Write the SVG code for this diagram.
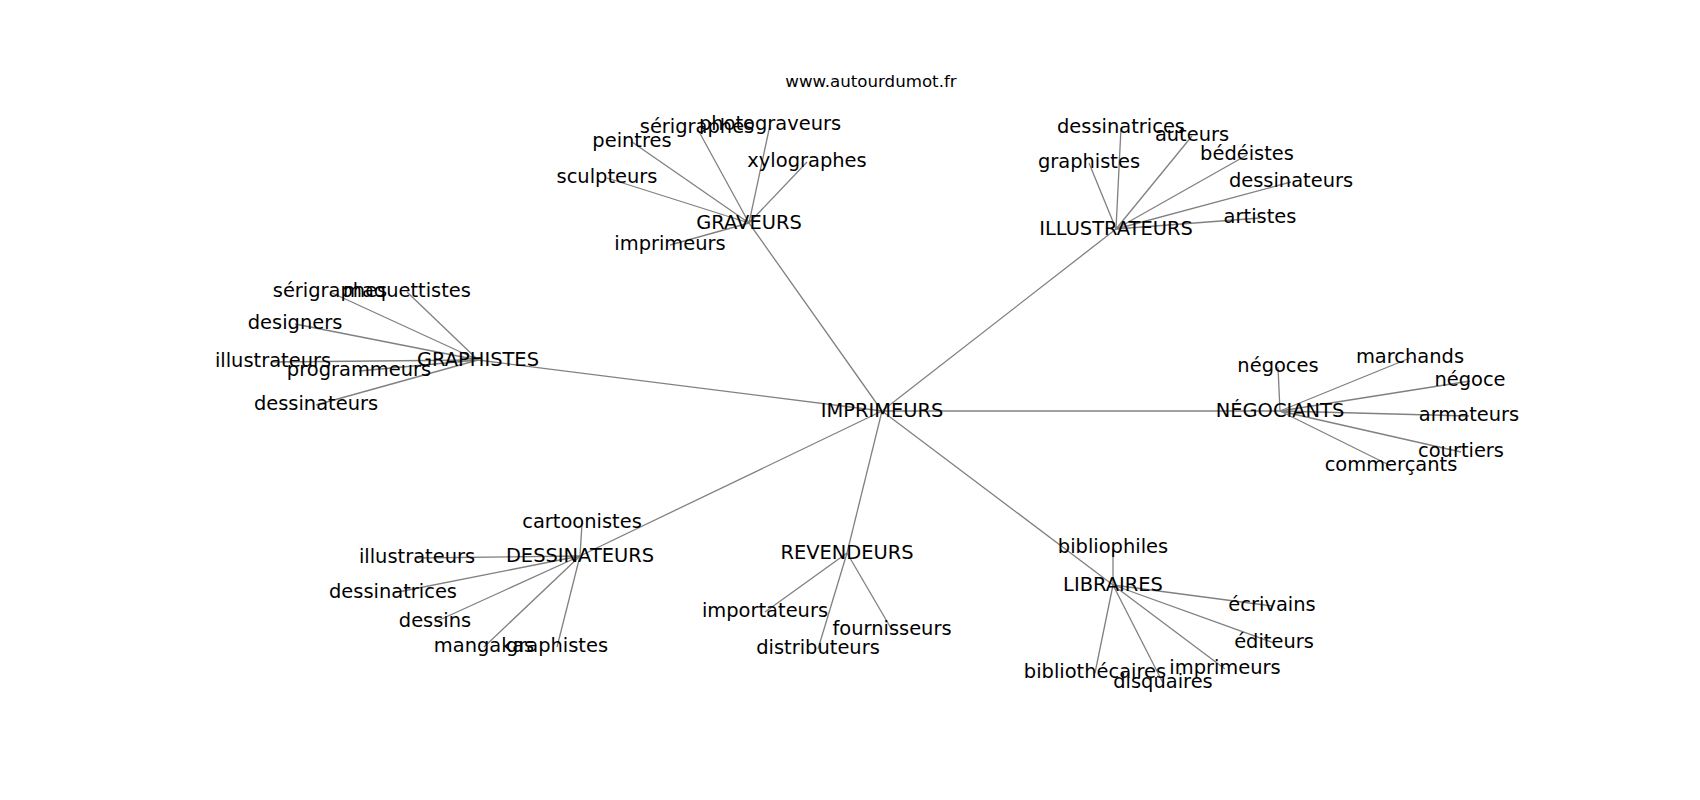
<svg xmlns="http://www.w3.org/2000/svg" width="1700" height="800" viewBox="0 0 1700 800">
<style>
text{font-family:"DejaVu Sans",sans-serif;fill:#000;text-anchor:middle}
.l{font-size:19.44px}
.t{font-size:16.67px}
#edges line{stroke:#808080;stroke-width:1.3}
</style>
<rect width="1700" height="800" fill="#fff"/>
<text class="t" x="871" y="87">www.autourdumot.fr</text>
<g id="edges">
<line x1="882" y1="411" x2="749" y2="223"/>
<line x1="882" y1="411" x2="1116" y2="229"/>
<line x1="882" y1="411" x2="478" y2="360"/>
<line x1="882" y1="411" x2="1280" y2="411"/>
<line x1="882" y1="411" x2="580" y2="556"/>
<line x1="882" y1="411" x2="847" y2="553"/>
<line x1="882" y1="411" x2="1113" y2="585"/>
<line x1="749" y1="223" x2="770" y2="125"/>
<line x1="749" y1="223" x2="697" y2="128"/>
<line x1="749" y1="223" x2="632" y2="142"/>
<line x1="749" y1="223" x2="807" y2="162"/>
<line x1="749" y1="223" x2="607" y2="178"/>
<line x1="749" y1="223" x2="670" y2="245"/>
<line x1="1116" y1="229" x2="1121" y2="128"/>
<line x1="1116" y1="229" x2="1192" y2="136"/>
<line x1="1116" y1="229" x2="1247" y2="155"/>
<line x1="1116" y1="229" x2="1089" y2="163"/>
<line x1="1116" y1="229" x2="1291" y2="182"/>
<line x1="1116" y1="229" x2="1260" y2="218"/>
<line x1="478" y1="360" x2="330" y2="292"/>
<line x1="478" y1="360" x2="407" y2="292"/>
<line x1="478" y1="360" x2="295" y2="324"/>
<line x1="478" y1="360" x2="273" y2="362"/>
<line x1="478" y1="360" x2="359" y2="371"/>
<line x1="478" y1="360" x2="316" y2="405"/>
<line x1="1280" y1="411" x2="1278" y2="367"/>
<line x1="1280" y1="411" x2="1410" y2="358"/>
<line x1="1280" y1="411" x2="1470" y2="381"/>
<line x1="1280" y1="411" x2="1469" y2="416"/>
<line x1="1280" y1="411" x2="1461" y2="452"/>
<line x1="1280" y1="411" x2="1391" y2="466"/>
<line x1="580" y1="556" x2="582" y2="523"/>
<line x1="580" y1="556" x2="417" y2="558"/>
<line x1="580" y1="556" x2="393" y2="593"/>
<line x1="580" y1="556" x2="435" y2="622"/>
<line x1="580" y1="556" x2="484" y2="647"/>
<line x1="580" y1="556" x2="557" y2="647"/>
<line x1="847" y1="553" x2="765" y2="612"/>
<line x1="847" y1="553" x2="892" y2="630"/>
<line x1="847" y1="553" x2="818" y2="649"/>
<line x1="1113" y1="585" x2="1113" y2="548"/>
<line x1="1113" y1="585" x2="1272" y2="606"/>
<line x1="1113" y1="585" x2="1274" y2="643"/>
<line x1="1113" y1="585" x2="1225" y2="669"/>
<line x1="1113" y1="585" x2="1095" y2="673"/>
<line x1="1113" y1="585" x2="1163" y2="683"/>
</g>
<g id="n-imprimeurs"><text class="l" x="882" y="417">IMPRIMEURS</text></g>
<g id="n-graveurs"><text class="l" x="749" y="229">GRAVEURS</text></g>
<g id="n-photograveurs"><text class="l" x="770" y="130">photograveurs</text></g>
<g id="n-serigraphes-1"><text class="l" x="697" y="133">sérigraphes</text></g>
<g id="n-peintres"><text class="l" x="632" y="147">peintres</text></g>
<g id="n-xylographes"><text class="l" x="807" y="167">xylographes</text></g>
<g id="n-sculpteurs"><text class="l" x="607" y="183">sculpteurs</text></g>
<g id="n-imprimeurs-g"><text class="l" x="670" y="250">imprimeurs</text></g>
<g id="n-illustrateurs"><text class="l" x="1116" y="235">ILLUSTRATEURS</text></g>
<g id="n-dessinatrices-i"><text class="l" x="1121" y="133">dessinatrices</text></g>
<g id="n-auteurs"><text class="l" x="1192" y="141">auteurs</text></g>
<g id="n-bedeistes"><text class="l" x="1247" y="160">bédéistes</text></g>
<g id="n-graphistes-i"><text class="l" x="1089" y="168">graphistes</text></g>
<g id="n-dessinateurs-i"><text class="l" x="1291" y="187">dessinateurs</text></g>
<g id="n-artistes"><text class="l" x="1260" y="223">artistes</text></g>
<g id="n-graphistes"><text class="l" x="478" y="366">GRAPHISTES</text></g>
<g id="n-serigraphes-2"><text class="l" x="330" y="297">sérigraphes</text></g>
<g id="n-maquettistes"><text class="l" x="407" y="297">maquettistes</text></g>
<g id="n-designers"><text class="l" x="295" y="329">designers</text></g>
<g id="n-illustrateurs-g"><text class="l" x="273" y="367">illustrateurs</text></g>
<g id="n-programmeurs"><text class="l" x="359" y="376">programmeurs</text></g>
<g id="n-dessinateurs-g"><text class="l" x="316" y="410">dessinateurs</text></g>
<g id="n-negociants"><text class="l" x="1280" y="417">NÉGOCIANTS</text></g>
<g id="n-negoces"><text class="l" x="1278" y="372">négoces</text></g>
<g id="n-marchands"><text class="l" x="1410" y="363">marchands</text></g>
<g id="n-negoce"><text class="l" x="1470" y="386">négoce</text></g>
<g id="n-armateurs"><text class="l" x="1469" y="421">armateurs</text></g>
<g id="n-courtiers"><text class="l" x="1461" y="457">courtiers</text></g>
<g id="n-commercants"><text class="l" x="1391" y="471">commerçants</text></g>
<g id="n-dessinateurs"><text class="l" x="580" y="562">DESSINATEURS</text></g>
<g id="n-cartoonistes"><text class="l" x="582" y="528">cartoonistes</text></g>
<g id="n-illustrateurs-d"><text class="l" x="417" y="563">illustrateurs</text></g>
<g id="n-dessinatrices-d"><text class="l" x="393" y="598">dessinatrices</text></g>
<g id="n-dessins"><text class="l" x="435" y="627">dessins</text></g>
<g id="n-mangakas"><text class="l" x="484" y="652">mangakas</text></g>
<g id="n-graphistes-d"><text class="l" x="557" y="652">graphistes</text></g>
<g id="n-revendeurs"><text class="l" x="847" y="559">REVENDEURS</text></g>
<g id="n-importateurs"><text class="l" x="765" y="617">importateurs</text></g>
<g id="n-fournisseurs"><text class="l" x="892" y="635">fournisseurs</text></g>
<g id="n-distributeurs"><text class="l" x="818" y="654">distributeurs</text></g>
<g id="n-libraires"><text class="l" x="1113" y="591">LIBRAIRES</text></g>
<g id="n-bibliophiles"><text class="l" x="1113" y="553">bibliophiles</text></g>
<g id="n-ecrivains"><text class="l" x="1272" y="611">écrivains</text></g>
<g id="n-editeurs"><text class="l" x="1274" y="648">éditeurs</text></g>
<g id="n-imprimeurs-l"><text class="l" x="1225" y="674">imprimeurs</text></g>
<g id="n-bibliothecaires"><text class="l" x="1095" y="678">bibliothécaires</text></g>
<g id="n-disquaires"><text class="l" x="1163" y="688">disquaires</text></g>
</svg>
